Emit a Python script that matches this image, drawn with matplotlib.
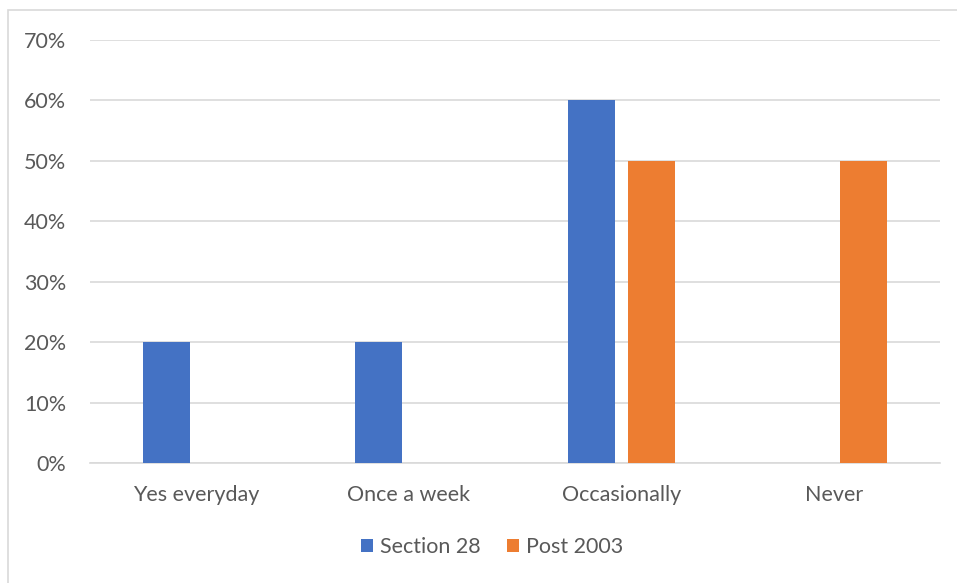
import matplotlib
matplotlib.use("Agg")
import matplotlib.pyplot as plt
from matplotlib.patches import Rectangle
import numpy as np

categories = ["Yes everyday", "Once a week", "Occasionally", "Never"]
section28 = [0.20, 0.20, 0.60, 0.00]
post2003 = [0.00, 0.00, 0.50, 0.50]
yticks = [0, 0.1, 0.2, 0.3, 0.4, 0.5, 0.6, 0.7]

W, H = 957, 583
fig = plt.figure(figsize=(W/100, H/100), dpi=100)
plt.rcParams['font.family'] = ['Lato', 'DejaVu Sans']

# outer border (right and bottom edges fall outside the image)
fig.patches.append(Rectangle((8/W, -0.1), 1.2, 1.1 - 10/H, transform=fig.transFigure,
                             fill=False, edgecolor="#d9d9d9", linewidth=1.2))

ax = fig.add_axes([90/W, 1 - 463/H, 850/W, 423/H])
x = np.arange(len(categories))
bw = 0.221
off = 0.141
ax.bar(x - off, section28, bw, color="#4472c4", label="Section 28", zorder=3)
ax.bar(x + off, post2003, bw, color="#ed7d31", label="Post 2003", zorder=3)

ax.set_xlim(-0.5, 3.5)
ax.set_ylim(0, 0.7)
ax.set_yticks(yticks)
ax.set_yticklabels([f"{int(round(v*100))}%" for v in yticks])
ax.set_xticks(x)
ax.set_xticklabels(categories)
ax.tick_params(axis='both', length=0, labelsize=15.5, colors="#595959")
ax.tick_params(axis='y', pad=17)
ax.tick_params(axis='x', pad=16)
ax.grid(axis='y', color="#d9d9d9", linewidth=1.2, zorder=0)
for s in ["top", "right", "left"]:
    ax.spines[s].set_visible(False)
ax.spines["bottom"].set_color("#d9d9d9")
ax.spines["bottom"].set_linewidth(1.2)

fig.legend(loc="center", bbox_to_anchor=(492/W, 1 - 547/H), ncol=2, frameon=False,
           fontsize=15.5, labelcolor="#595959", handlelength=0.56, handleheight=0.56,
           handletextpad=0.33, columnspacing=1.2)

fig.savefig("out.png", dpi=100)
